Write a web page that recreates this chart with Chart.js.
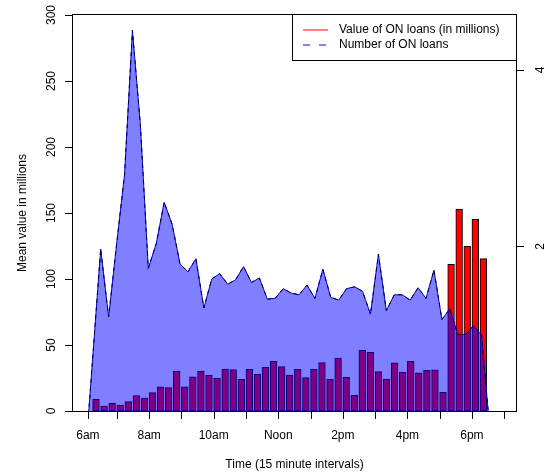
<!DOCTYPE html>
<html>
<head>
<meta charset="utf-8">
<script src="https://cdn.jsdelivr.net/npm/chart.js@4/dist/chart.umd.min.js"></script>
<style>
html,body{margin:0;padding:0;background:#fff;}
#wrap{width:549px;height:476px;position:relative;}
</style>
</head>
<body>
<div id="wrap"><canvas id="c" width="549" height="476"></canvas></div>
<script>
// ---- categories: 15-minute intervals from 6:00 to 18:00 ----
const intervals = ['06:00','06:15','06:30','06:45','07:00','07:15','07:30','07:45',
  '08:00','08:15','08:30','08:45','09:00','09:15','09:30','09:45',
  '10:00','10:15','10:30','10:45','11:00','11:15','11:30','11:45',
  '12:00','12:15','12:30','12:45','13:00','13:15','13:30','13:45',
  '14:00','14:15','14:30','14:45','15:00','15:15','15:30','15:45',
  '16:00','16:15','16:30','16:45','17:00','17:15','17:30','17:45','18:00'];

// ---- mean value of ON loans (millions), left axis ----
const loanValue = [8.9, 3.8, 5.8, 4.5, 7.1, 11.6, 9.8, 13.9,
  18.4, 17.7, 30.3, 18.4, 25.8, 30.3, 27.0, 24.7,
  31.8, 31.3, 24.0, 31.6, 27.8, 33.1, 37.6, 33.6,
  27.3, 31.5, 25.3, 31.6, 36.6, 24.0, 40.0, 25.5,
  11.9, 46.0, 44.4, 29.8, 24.2, 36.4, 29.5, 37.6,
  29.0, 30.8, 31.1, 14.1, 111.1, 153.0, 124.7, 145.2, 115.4];

// ---- number of ON loans, right axis ----
const loanCount = [1.97, 1.20, 2.02, 2.81, 4.45, 3.38, 1.75, 2.03,
  2.50, 2.25, 1.80, 1.71, 1.86, 1.30, 1.63, 1.69,
  1.57, 1.62, 1.77, 1.59, 1.64, 1.40, 1.41, 1.52,
  1.47, 1.45, 1.56, 1.41, 1.74, 1.42, 1.39, 1.52,
  1.54, 1.49, 1.23, 1.91, 1.27, 1.45, 1.45, 1.39,
  1.53, 1.41, 1.73, 1.17, 1.29, 1.00, 1.00, 1.10, 0.99];
const countEnds = [0, 0]; // polygon closes down to zero at both ends

// ---- tick labels ----
const hourTicks  = ['6am','7am','8am','9am','10am','11am','Noon','1pm','2pm','3pm','4pm','5pm','6pm','7pm'];
const hourLabels = ['6am','','8am','','10am','','Noon','','2pm','','4pm','','6pm',''];
const valueTicks = [0, 50, 100, 150, 200, 250, 300];
const countTicks = [2, 4];

const seriesNames = ['Value of ON loans (in millions)', 'Number of ON loans'];
const xTitle = 'Time (15 minute intervals)';
const yTitle = 'Mean value in millions';

// ---- layout (barplot geometry: bar width 1, space 0.2) ----
const PAD = { left: 73, right: 33, top: 15, bottom: 65 };
const X_RANGE = [-2.222, 63.652];
const barPos = i => 0.7 + 1.2 * i;
const barPts = loanValue.map((v, i) => ({x: barPos(i), y: v}));
const countPts = [{x: -0.61, y: countEnds[0]}]
  .concat(loanCount.map((v, k) => ({x: k + 1, y: v})))
  .concat([{x: loanCount.length + 0.96, y: countEnds[1]}]);
const hourPos = hourTicks.map((h, j) => j === 0 ? 0 : barPos(4 * j - 1));
const barWidthPx = (549 - PAD.left - PAD.right) / (X_RANGE[1] - X_RANGE[0]) * 1.0;

const FONT = '12px "Liberation Sans", Arial, Helvetica, sans-serif';

const setTicks = vals => (scale) => { scale.ticks = vals.map(v => ({value: v})); };

const decor = {
  id: 'decor',
  afterDraw(chart) {
    const ctx = chart.ctx, a = chart.chartArea, s = chart.scales;
    ctx.save();
    ctx.strokeStyle = '#000';
    ctx.fillStyle = '#000';
    ctx.lineWidth = 1;
    ctx.font = FONT;
    const seg = (x1, y1, x2, y2) => { ctx.beginPath(); ctx.moveTo(x1, y1); ctx.lineTo(x2, y2); ctx.stroke(); };
    const vText = (t, x, y) => {
      ctx.save(); ctx.translate(x, y); ctx.rotate(-Math.PI / 2);
      ctx.textAlign = 'center'; ctx.textBaseline = 'alphabetic';
      ctx.fillText(t, 0, 0); ctx.restore();
    };
    // box
    ctx.strokeRect(a.left - 0.5, a.top - 0.5, a.right - a.left + 1, a.bottom - a.top + 1);
    // left axis
    s.y.ticks.forEach(t => {
      const py = s.y.getPixelForValue(t.value);
      const y = Math.round(py) + 0.5;
      seg(a.left - 8, y, a.left, y);
      vText(String(t.value), a.left - 18, py);
    });
    // right axis
    s.y2.ticks.forEach(t => {
      const py = s.y2.getPixelForValue(t.value);
      const y = Math.round(py) + 0.5;
      seg(a.right, y, a.right + 8, y);
      vText(String(t.value), a.right + 27.5, py);
    });
    // bottom axis
    ctx.textAlign = 'center'; ctx.textBaseline = 'alphabetic';
    s.x.ticks.forEach((t, j) => {
      const px = s.x.getPixelForValue(t.value);
      const x = Math.round(px) + 0.5;
      seg(x, a.bottom, x, a.bottom + 8);
      if (hourLabels[j]) ctx.fillText(hourLabels[j], px, a.bottom + 28);
    });
    // titles
    ctx.fillText(xTitle, (a.left + a.right) / 2, a.bottom + 57);
    vText(yTitle, a.left - 47.5, (a.top + a.bottom) / 2);
    // legend
    const bx = a.right - 223.5;
    ctx.fillStyle = '#fff';
    ctx.fillRect(bx, a.top - 0.5, a.right + 0.5 - bx, 46);
    ctx.strokeRect(bx, a.top - 0.5, a.right + 0.5 - bx, 46);
    const ds = chart.data.datasets;
    const rows = [ds[2], ds[1]];
    rows.forEach((d, r) => {
      const y = a.top + 15 + 15 * r;
      ctx.strokeStyle = r === 0 ? '#ff0000' : '#0000ff';
      ctx.setLineDash(r === 0 ? [] : [7, 9]);
      seg(a.right - 213, y, a.right - 188, y);
      ctx.setLineDash([]);
      ctx.fillStyle = '#000';
      ctx.textAlign = 'left'; ctx.textBaseline = 'middle';
      ctx.fillText(d.label, a.right - 177, y);
    });
    ctx.restore();
  }
};

new Chart(document.getElementById('c'), {
  type: 'bar',
  data: {
    datasets: [
      { type: 'line', label: seriesNames[1] + ' (outline)', data: countPts, xAxisID: 'x2', yAxisID: 'y2',
        borderColor: '#000000', borderWidth: 1, borderDash: [4, 4], pointRadius: 0, fill: false, tension: 0, order: 0 },
      { type: 'line', label: seriesNames[1], data: countPts, xAxisID: 'x2', yAxisID: 'y2',
        borderColor: '#0000ff', borderWidth: 1, backgroundColor: 'rgba(0,0,255,0.5)', fill: 'start',
        pointRadius: 0, tension: 0, order: 1 },
      { type: 'bar', label: seriesNames[0], data: barPts, xAxisID: 'x', yAxisID: 'y',
        backgroundColor: '#ff0000', borderColor: '#000000', borderWidth: 1, borderSkipped: false,
        barThickness: barWidthPx, order: 2 }
    ]
  },
  options: {
    responsive: false,
    animation: false,
    devicePixelRatio: 1,
    layout: { padding: PAD },
    plugins: {
      legend: { display: false },
      tooltip: { enabled: false },
      filler: { drawTime: 'beforeDatasetDraw' }
    },
    scales: {
      x:  { type: 'linear', min: X_RANGE[0], max: X_RANGE[1], offset: false, grid: { offset: false }, display: false,
            afterBuildTicks: setTicks(hourPos) },
      y:  { type: 'linear', min: 0, max: 300, display: false, afterBuildTicks: setTicks(valueTicks) },
      x2: { type: 'linear', min: -2.491, max: 53.34, offset: false, grid: { offset: false }, display: false,
            afterBuildTicks: setTicks([]) },
      y2: { type: 'linear', min: 0.1316, max: 4.624, display: false, afterBuildTicks: setTicks(countTicks) }
    }
  },
  plugins: [decor]
});
</script>
</body>
</html>
